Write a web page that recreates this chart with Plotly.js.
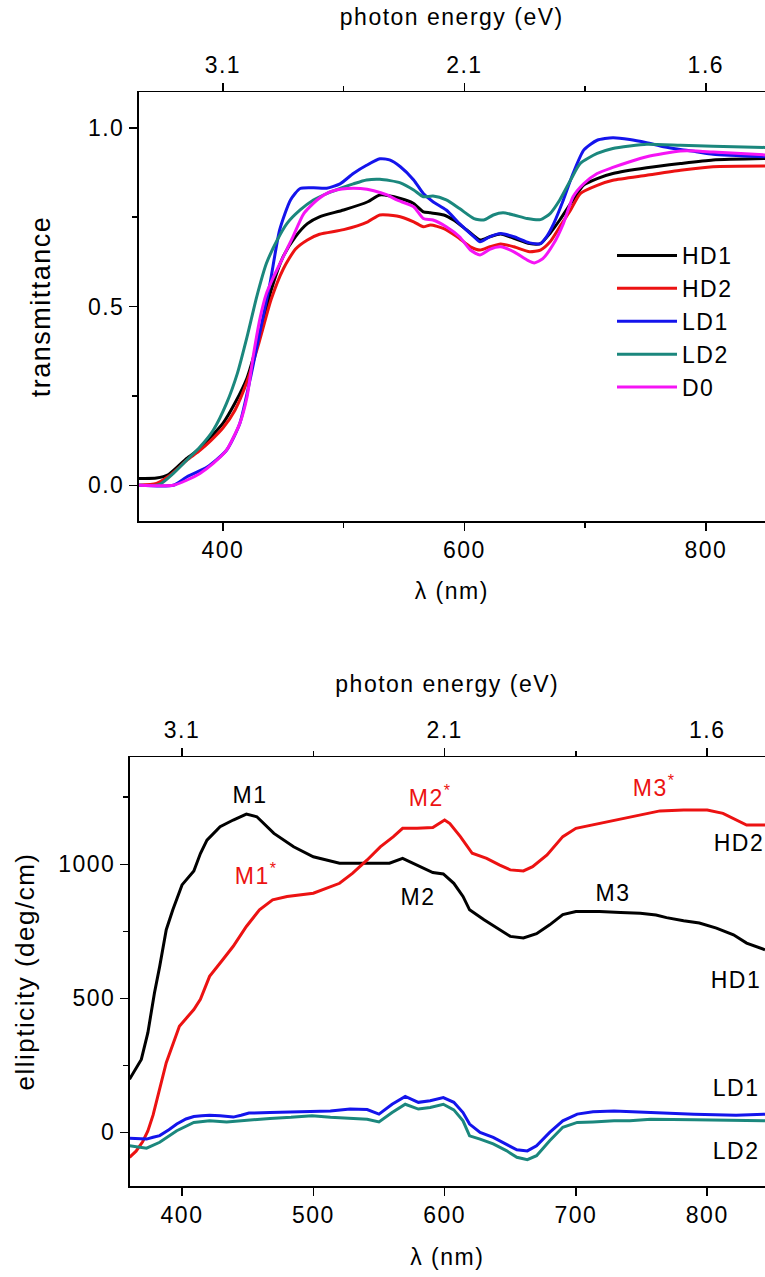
<!DOCTYPE html>
<html><head><meta charset="utf-8">
<script src="https://cdn.plot.ly/plotly-3.0.1.min.js"></script>
<style>
body{margin:0;padding:0;background:#fff;}
#chart{width:765px;height:1277px;}
.main-svg text{letter-spacing:1.5px;}
</style></head><body><div id="chart"></div>
<script>
// ---------- top panel: transmittance vs wavelength (nm) ----------
const T_HD1 = [[330,0.019],[345,0.02],[355,0.03],[370,0.075],[380,0.10],[390,0.135],[400,0.173],[410,0.23],[420,0.30],[430,0.415],[440,0.546],[450,0.64],[460,0.695],[470,0.732],[480,0.751],[500,0.77],[520,0.793],[530,0.812],[547,0.802],[558,0.788],[566,0.765],[572,0.762],[583,0.756],[591,0.742],[602,0.714],[613,0.686],[621,0.695],[630,0.703],[641,0.691],[654,0.676],[663,0.676],[671,0.705],[679,0.742],[688,0.788],[699,0.84],[710,0.858],[723,0.872],[751,0.888],[779,0.90],[806,0.91],[849,0.914]];
const T_HD2 = [[330,0.0],[345,0.005],[355,0.025],[362,0.045],[370,0.07],[380,0.095],[390,0.125],[400,0.16],[410,0.21],[420,0.29],[430,0.40],[440,0.52],[450,0.605],[460,0.66],[470,0.686],[480,0.702],[500,0.715],[520,0.737],[530,0.756],[544,0.753],[558,0.737],[566,0.723],[572,0.728],[583,0.718],[594,0.695],[605,0.667],[613,0.658],[621,0.667],[630,0.675],[641,0.667],[654,0.653],[663,0.658],[671,0.681],[679,0.723],[688,0.77],[696,0.816],[710,0.839],[723,0.853],[751,0.867],[779,0.881],[806,0.891],[849,0.893]];
const T_LD1 = [[330,0],[359,0],[370,0.023],[387,0.051],[403,0.098],[414,0.173],[423,0.303],[431,0.434],[439,0.564],[447,0.714],[456,0.798],[464,0.830],[475,0.832],[486,0.831],[497,0.843],[508,0.872],[519,0.895],[530,0.913],[538,0.91],[547,0.891],[558,0.854],[566,0.816],[574,0.793],[585,0.770],[596,0.732],[608,0.695],[613,0.681],[621,0.695],[630,0.704],[641,0.695],[654,0.678],[663,0.676],[668,0.695],[674,0.732],[682,0.798],[690,0.872],[699,0.938],[710,0.965],[723,0.972],[737,0.967],[751,0.958],[765,0.947],[779,0.939],[792,0.933],[806,0.926],[849,0.919]];
const T_LD2 = [[330,0],[345,0.0],[349,0.005],[359,0.033],[370,0.07],[381,0.107],[392,0.154],[403,0.229],[412,0.313],[420,0.415],[428,0.527],[436,0.62],[445,0.686],[453,0.732],[464,0.77],[475,0.798],[486,0.816],[497,0.830],[508,0.843],[519,0.854],[530,0.856],[547,0.846],[558,0.826],[566,0.807],[574,0.809],[585,0.798],[596,0.774],[608,0.746],[616,0.742],[624,0.756],[632,0.762],[641,0.756],[652,0.746],[663,0.743],[671,0.76],[679,0.798],[688,0.854],[696,0.9],[710,0.928],[723,0.942],[737,0.949],[751,0.954],[779,0.951],[806,0.948],[849,0.945]];
const T_D0 = [[330,0],[359,0],[370,0.014],[381,0.033],[392,0.061],[403,0.098],[414,0.173],[420,0.247],[425,0.359],[431,0.471],[436,0.536],[442,0.583],[450,0.639],[458,0.695],[467,0.760],[478,0.798],[489,0.821],[503,0.830],[514,0.830],[525,0.824],[536,0.812],[544,0.798],[558,0.779],[566,0.746],[574,0.742],[585,0.723],[596,0.695],[605,0.658],[613,0.644],[621,0.66],[630,0.667],[641,0.653],[652,0.63],[658,0.622],[665,0.634],[674,0.676],[682,0.732],[690,0.807],[699,0.844],[710,0.872],[723,0.889],[737,0.905],[751,0.919],[765,0.928],[779,0.935],[792,0.935],[806,0.932],[849,0.924]];

// ---------- bottom panel: ellipticity (deg/cm) vs wavelength (nm) ----------
const E_HD1 = [[360,198],[369,272],[374,372],[379,520],[383,619],[388,756],[393,830],[400,923],[409,975],[414,1040],[419,1090],[429,1140],[439,1165],[449,1187],[457,1177],[470,1115],[485,1065],[500,1028],[520,1004],[540,1004],[558,1004],[568,1022],[579,997],[591,969],[599,964],[607,929],[614,880],[619,830],[630,793],[640,762],[650,731],[660,725],[670,741],[680,774],[690,812],[700,824],[718,824],[734,820],[749,817],[761,811],[769,801],[782,789],[794,781],[807,762],[820,737],[830,706],[844,681]];
const E_HD2 = [[360,-93],[365,-70],[370,-35],[374,5],[378,65],[381,124],[388,260],[398,396],[409,458],[414,496],[421,582],[431,644],[439,694],[449,768],[459,830],[469,867],[480,880],[500,892],[520,929],[530,967],[541,1016],[551,1065],[561,1103],[568,1134],[579,1134],[591,1137],[600,1165],[604,1152],[612,1103],[621,1041],[632,1022],[642,997],[650,979],[660,975],[667,991],[678,1035],[690,1103],[700,1134],[718,1152],[731,1165],[744,1180],[764,1199],[782,1202],[800,1202],[812,1190],[822,1165],[830,1146],[844,1146]];
const E_LD1 = [[360,-22],[366,-24],[373,-25],[378,-18],[383,-12],[390,10],[396,31],[403,50],[409,59],[415,62],[421,64],[429,62],[434,60],[439,57],[445,64],[451,72],[467,74],[483,77],[499,80],[513,80],[528,87],[541,85],[550,68],[560,105],[570,134],[580,112],[589,118],[599,130],[607,112],[614,74],[619,31],[627,0],[637,-19],[647,-43],[655,-65],[663,-69],[670,-50],[680,0],[690,43],[701,68],[713,77],[729,80],[741,77],[757,74],[790,68],[822,64],[844,68]];
const E_LD2 = [[360,-50],[366,-55],[373,-59],[383,-37],[396,6],[409,37],[421,43],[434,39],[451,47],[467,52],[483,56],[499,62],[513,56],[528,52],[541,49],[550,39],[560,74],[570,105],[580,87],[589,93],[599,105],[607,84],[614,43],[619,-13],[627,-25],[637,-43],[647,-68],[655,-93],[663,-102],[670,-87],[680,-31],[690,19],[701,37],[713,39],[729,43],[741,43],[757,49],[790,47],[822,43],[844,43]];

// axis ticks / labels
const energyTickNm = [400, 600, 800];
const energyTickText = ['3.1', '2.1', '1.6'];
const energyMinorNm = [500, 700];
const topXTicks = [400, 600, 800];
const topXMinor = [500, 700];
const topYTicks = [0, 0.5, 1.0];
const topYTickText = ['0.0', '0.5', '1.0'];
const topYMinor = [0.25, 0.75];
const botXTicks = [400, 500, 600, 700, 800];
const botYTicks = [0, 500, 1000];
const botYMinor = [250, 750, 1250];

// peak labels: [text, wavelength, value, colour]
const peakLabels = [
  ['M1', 452, 1258, '#000'],
  ['M1<sup>*</sup>', 457, 962, '#ec1212'],
  ['M2<sup>*</sup>', 589, 1256, '#ec1212'],
  ['M2', 580, 877, '#000'],
  ['M3<sup>*</sup>', 760, 1293, '#ec1212'],
  ['M3', 728, 893, '#000'],
  ['HD2', 824, 1079, '#000'],
  ['HD1', 822, 570, '#000'],
  ['LD1', 822, 165, '#000'],
  ['LD2', 822, -71, '#000']
];

const colors = {HD1:'#000000', HD2:'#ec1212', LD1:'#1414ec', LD2:'#1b877d', D0:'#f514f5'};
const F = 'Liberation Sans, Arial, Helvetica, sans-serif';
const W = 765, H = 1277;

function tr(pairs, name, xa, ya, showlegend, shape) {
  return {x: pairs.map(p => p[0]), y: pairs.map(p => p[1]), name: name, type: 'scatter', mode: 'lines',
    xaxis: xa, yaxis: ya, showlegend: showlegend, hoverinfo: 'skip',
    line: {color: colors[name], width: 3, shape: shape, smoothing: 0.6}};
}

const data = [
  tr(T_HD1, 'HD1', 'x', 'y', true, 'spline'),
  tr(T_HD2, 'HD2', 'x', 'y', true, 'spline'),
  tr(T_LD1, 'LD1', 'x', 'y', true, 'spline'),
  tr(T_LD2, 'LD2', 'x', 'y', true, 'spline'),
  tr(T_D0, 'D0', 'x', 'y', true, 'spline'),
  {x: [], y: [], xaxis: 'x2', yaxis: 'y', showlegend: false, type: 'scatter', mode: 'lines'},
  tr(E_HD1, 'HD1', 'x3', 'y3', false, 'linear'),
  tr(E_HD2, 'HD2', 'x3', 'y3', false, 'linear'),
  tr(E_LD2, 'LD2', 'x3', 'y3', false, 'linear'),
  tr(E_LD1, 'LD1', 'x3', 'y3', false, 'linear'),
  {x: [], y: [], xaxis: 'x4', yaxis: 'y3', showlegend: false, type: 'scatter', mode: 'lines'}
];

function ax(extra) {
  return Object.assign({
    showline: true, linecolor: '#000', linewidth: 1.5, mirror: false,
    ticks: 'outside', ticklen: 8, tickwidth: 1.5, tickcolor: '#000',
    showgrid: false, zeroline: false, tickmode: 'array',
    tickfont: {size: 23, color: '#000'}
  }, extra);
}
function minor(vals) {
  return {tickmode: 'array', tickvals: vals, ticks: 'outside', ticklen: 5, tickwidth: 1.5, tickcolor: '#000', showgrid: false};
}

const topDomX = [138.5 / W, 1], topDomY = [1 - 521 / H, 1 - 92 / H];
const botDomX = [129.5 / W, 1], botDomY = [1 - 1186 / H, 1 - 757 / H];

const layout = {
  width: W, height: H, margin: {l: 0, r: 0, t: 0, b: 0},
  paper_bgcolor: '#fff', plot_bgcolor: '#fff',
  font: {family: F, color: '#000', size: 23},
  showlegend: true,
  legend: {x: 612 / W, y: 1 - 234 / H, xanchor: 'left', yanchor: 'top', font: {size: 23, color: '#000'},
           itemwidth: 60, bgcolor: 'rgba(0,0,0,0)', borderwidth: 0, traceorder: 'normal'},
  xaxis: ax({domain: topDomX, range: [330.1, 849], anchor: 'y', side: 'bottom',
             tickvals: topXTicks, minor: minor(topXMinor),
             title: {text: 'λ (nm)', font: {size: 23}, standoff: 21}}),
  xaxis2: ax({domain: topDomX, range: [330.1, 849], anchor: 'y', overlaying: 'x', side: 'top',
              tickvals: energyTickNm, ticktext: energyTickText, minor: minor(energyMinorNm),
              title: {text: 'photon energy (eV)', font: {size: 23}, standoff: 20}}),
  yaxis: ax({domain: topDomY, range: [-0.1, 1.1], anchor: 'x',
             tickvals: topYTicks, ticktext: topYTickText, minor: minor(topYMinor),
             title: {text: 'transmittance', font: {size: 27}, standoff: 34}}),
  xaxis3: ax({domain: botDomX, range: [360, 844], anchor: 'y3', side: 'bottom',
              tickvals: botXTicks,
              title: {text: 'λ (nm)', font: {size: 23}, standoff: 22}}),
  xaxis4: ax({domain: botDomX, range: [360, 844], anchor: 'y3', overlaying: 'x3', side: 'top',
              tickvals: energyTickNm, ticktext: energyTickText, minor: minor(energyMinorNm),
              title: {text: 'photon energy (eV)', font: {size: 23}, standoff: 18}}),
  yaxis3: ax({domain: botDomY, range: [-200, 1400], anchor: 'x3',
              tickvals: botYTicks, minor: minor(botYMinor),
              title: {text: 'ellipticity (deg/cm)', font: {size: 26}, standoff: 22}}),
  annotations: peakLabels.map(p => ({
    text: p[0], x: p[1], y: p[2], xref: 'x3', yref: 'y3', showarrow: false,
    xanchor: 'center', yanchor: 'middle', font: {size: 23, color: p[3], family: F}
  }))
};

Plotly.newPlot('chart', data, layout, {staticPlot: true, displayModeBar: false});
</script>
</body></html>
